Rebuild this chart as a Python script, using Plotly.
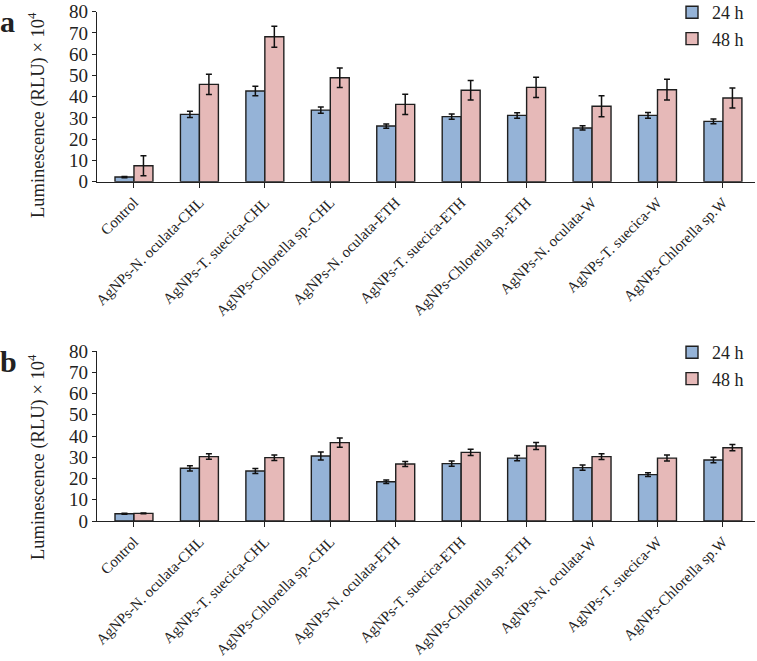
import plotly.graph_objects as go

categories = [
    "Control",
    "AgNPs-N. oculata-CHL",
    "AgNPs-T. suecica-CHL",
    "AgNPs-Chlorella sp.-CHL",
    "AgNPs-N. oculata-ETH",
    "AgNPs-T. suecica-ETH",
    "AgNPs-Chlorella sp.-ETH",
    "AgNPs-N. oculata-W",
    "AgNPs-T. suecica-W",
    "AgNPs-Chlorella sp.W",
]

# panel a
a_24 = [2.2, 31.7, 42.7, 33.7, 26.2, 30.6, 31.2, 25.3, 31.2, 28.4]
a_24_err = [0.3, 1.5, 2.2, 1.5, 1.0, 1.2, 1.3, 1.0, 1.4, 1.1]
a_48 = [7.5, 45.8, 68.2, 48.9, 36.4, 43.0, 44.4, 35.5, 43.3, 39.4]
a_48_err = [4.7, 4.8, 4.9, 4.6, 4.8, 4.6, 4.8, 4.9, 4.9, 4.7]

# panel b
b_24 = [3.4, 24.8, 23.5, 30.6, 18.5, 27.0, 29.6, 25.1, 21.8, 28.7]
b_24_err = [0.2, 1.25, 1.2, 1.9, 0.8, 1.2, 1.2, 1.2, 0.9, 1.3]
b_48 = [3.6, 30.3, 29.8, 36.9, 26.8, 32.3, 35.3, 30.3, 29.6, 34.5]
b_48_err = [0.2, 1.3, 1.3, 2.2, 1.2, 1.5, 1.6, 1.4, 1.4, 1.5]

BLUE = "#95b3d7"
PINK = "#e6b9b8"
EDGE = "#1f1f1f"
FONT = "Liberation Serif, Times New Roman, serif"

W, H = 757, 661
L, R = 97, 2
PW = W - L - R


def _bar(name, y, err, color, xa, ya, legend):
    return go.Bar(
        x=categories, y=y, name=name, xaxis=xa, yaxis=ya, legend=legend,
        marker=dict(color=color, line=dict(color=EDGE, width=1.4)),
        error_y=dict(type="data", array=err, color="#111111", thickness=1.5, width=3),
    )


fig = go.Figure()
fig.add_trace(_bar("24 h", a_24, a_24_err, BLUE, "x", "y", "legend"))
fig.add_trace(_bar("48 h", a_48, a_48_err, PINK, "x", "y", "legend"))
fig.add_trace(_bar("24 h", b_24, b_24_err, BLUE, "x2", "y2", "legend2"))
fig.add_trace(_bar("48 h", b_48, b_48_err, PINK, "x2", "y2", "legend2"))


def py(pix):
    return (H - pix) / H


def px_(pix):
    return (pix - L) / PW


xcommon = dict(
    range=[-0.565, 9.49], showline=True, linecolor="#222222", linewidth=1.3,
    ticks="outside", ticklen=5, tickcolor="#222222", tickangle=-45,
    tickfont=dict(size=15, color="#222222"), showgrid=False, automargin=False,
    fixedrange=True,
)
ycommon = dict(
    range=[0, 80], dtick=10, showline=True, linecolor="#222222", linewidth=1.3,
    ticks="outside", ticklen=4, tickcolor="#222222",
    tickfont=dict(size=19, color="#222222"), showgrid=False, zeroline=False,
    automargin=False,
)

ytitle_text = "Luminescence (RLU) × 10<sup>4</sup>"
legend_style = dict(xanchor="left", yanchor="top", font=dict(size=18),
                    bgcolor="rgba(0,0,0,0)", tracegroupgap=0)

fig.update_layout(
    width=W, height=H,
    margin=dict(l=L, r=R, t=0, b=0, autoexpand=False),
    font=dict(family=FONT, color="#222222"),
    paper_bgcolor="white", plot_bgcolor="white",
    barmode="group", bargap=0.42, bargroupgap=0,
    xaxis=dict(xcommon, anchor="y"),
    yaxis=dict(ycommon, domain=[py(181.7), py(11.7)], anchor="x"),
    xaxis2=dict(xcommon, anchor="y2"),
    yaxis2=dict(ycommon, domain=[py(521), py(351)], anchor="x2"),
    legend=dict(legend_style, x=px_(672), y=py(-6)),
    legend2=dict(legend_style, x=px_(672), y=py(334)),
    annotations=[
        dict(text="<b>a</b>", xref="paper", yref="paper", x=px_(-2), y=py(3),
             xanchor="left", yanchor="top", showarrow=False, font=dict(size=30)),
        dict(text="<b>b</b>", xref="paper", yref="paper", x=px_(-2), y=py(343),
             xanchor="left", yanchor="top", showarrow=False, font=dict(size=30)),
        dict(text=ytitle_text, xref="paper", yref="paper", x=px_(36), y=py(115),
             xanchor="center", yanchor="middle", textangle=-90, showarrow=False,
             font=dict(size=18.5)),
        dict(text=ytitle_text, xref="paper", yref="paper", x=px_(36), y=py(457),
             xanchor="center", yanchor="middle", textangle=-90, showarrow=False,
             font=dict(size=18.5)),
    ],
)

# the page body has a default 8px margin; remove it so the figure fills the window
fig.write_html("out.html", config={"displayModeBar": False},
               post_script="document.body.style.margin='0';")
